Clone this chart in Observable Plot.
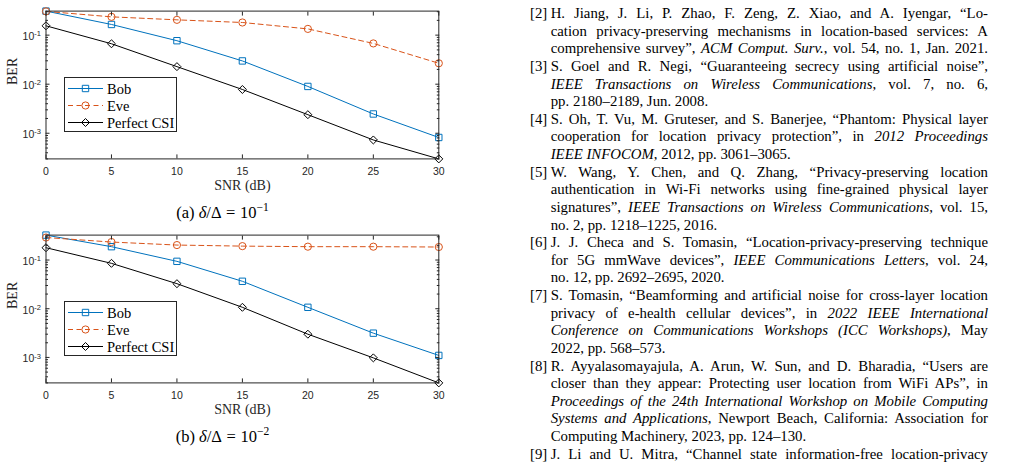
<!DOCTYPE html>
<html>
<head>
<meta charset="utf-8">
<script src="https://cdn.jsdelivr.net/npm/d3@7"></script>
<script src="https://cdn.jsdelivr.net/npm/@observablehq/plot@0.6"></script>
<style>
  html, body { margin: 0; padding: 0; background: #fff; }
  body { width: 1009px; height: 466px; overflow: hidden; position: relative; font-family: "Liberation Serif", "Times New Roman", serif; color: #000; }
  .fig { position: absolute; left: 0; width: 470px; height: 240px; }
  .fig > svg.plot { position: absolute; left: 0; top: 0; }
  .legend { position: absolute; left: 64px; }
  .cap { position: absolute; left: 0; width: 445px; text-align: center; font-size: 16.5px; line-height: 20px; white-space: nowrap; font-family: "Liberation Serif", serif; }
  .cap sup { font-size: 0.7em; vertical-align: 0; position: relative; top: -0.55em; }
  .cap .eq { margin: 0 0.28em; }
  .refs { position: absolute; left: 530px; top: 5px; width: 458px; font-family: "Liberation Serif", "Times New Roman", serif; font-size: 14.8px; line-height: 17.62px; }
  .ref { position: relative; padding-left: 20.7px; }
  .ref .lab { position: absolute; left: 0; top: 0; }
  .ln { display: block; white-space: nowrap; }
  .ln span.t { display: inline-block; white-space: nowrap; }
</style>
</head>
<body>
<div id="figA" class="fig" style="top:0px"></div>
<div id="figB" class="fig" style="top:224px"></div>
<div id="refs" class="refs"></div>
<script>
// ---------------- data ----------------
const snr = [0, 5, 10, 15, 20, 25, 30];
const xTicks = [0, 5, 10, 15, 20, 25, 30];
const yMajor = [1e-3, 1e-2, 1e-1];
const seriesNames = ["Bob", "Eve", "Perfect CSI"];
const seriesColors = ["#0072BD", "#D95319", "#000000"];
const seriesSymbols = ["square", "circle", "diamond2"];

// (a) delta/Delta = 10^-1
const bobA = [0.309, 0.165, 0.077, 0.0298, 0.0090, 0.00247, 0.00082];
const eveA = [0.305, 0.236, 0.205, 0.181, 0.134, 0.0678, 0.0267];
const csiA = [0.155, 0.0667, 0.0228, 0.0078, 0.00239, 0.00073, 0.00030];

// (b) delta/Delta = 10^-2
const bobB = [0.325, 0.188, 0.094, 0.0366, 0.0107, 0.00315, 0.0011];
const eveB = [0.290, 0.234, 0.203, 0.193, 0.188, 0.188, 0.185];
const csiB = [0.179, 0.0855, 0.0327, 0.0107, 0.0030, 0.00098, 0.00030];

const captionLabels = ["(a)", "(b)"];
const captionExps = ["−1", "−2"];
const xLabel = "SNR (dB)";
const yLabel = "BER";

const refLabels = ["[2]", "[3]", "[4]", "[5]", "[6]", "[7]", "[8]", "[9]"];
const refLines = [
  ["H. Jiang, J. Li, P. Zhao, F. Zeng, Z. Xiao, and A. Iyengar, “Lo-",
   "cation privacy-preserving mechanisms in location-based services: A",
   "comprehensive survey”, <i>ACM Comput. Surv.</i>, vol. 54, no. 1, Jan. 2021."],
  ["S. Goel and R. Negi, “Guaranteeing secrecy using artificial noise”,",
   "<i>IEEE Transactions on Wireless Communications</i>, vol. 7, no. 6,",
   "pp. 2180–2189, Jun. 2008."],
  ["S. Oh, T. Vu, M. Gruteser, and S. Banerjee, “Phantom: Physical layer",
   "cooperation for location privacy protection”, in <i>2012 Proceedings</i>",
   "<i>IEEE INFOCOM</i>, 2012, pp. 3061–3065."],
  ["W. Wang, Y. Chen, and Q. Zhang, “Privacy-preserving location",
   "authentication in Wi-Fi networks using fine-grained physical layer",
   "signatures”, <i>IEEE Transactions on Wireless Communications</i>, vol. 15,",
   "no. 2, pp. 1218–1225, 2016."],
  ["J. J. Checa and S. Tomasin, “Location-privacy-preserving technique",
   "for 5G mmWave devices”, <i>IEEE Communications Letters</i>, vol. 24,",
   "no. 12, pp. 2692–2695, 2020."],
  ["S. Tomasin, “Beamforming and artificial noise for cross-layer location",
   "privacy of e-health cellular devices”, in <i>2022 IEEE International</i>",
   "<i>Conference on Communications Workshops (ICC Workshops)</i>, May",
   "2022, pp. 568–573."],
  ["R. Ayyalasomayajula, A. Arun, W. Sun, and D. Bharadia, “Users are",
   "closer than they appear: Protecting user location from WiFi APs”, in",
   "<i>Proceedings of the 24th International Workshop on Mobile Computing</i>",
   "<i>Systems and Applications</i>, Newport Beach, California: Association for",
   "Computing Machinery, 2023, pp. 124–130."],
  ["J. Li and U. Mitra, “Channel state information-free location-privacy"]
];
// lines that are not stretched to full width (short last lines)
const shortLast = [false, true, true, true, true, true, true, false];

// ---------------- chart ----------------
const symR = {square: 3.6, circle: 3.6, diamond2: 3.6};

function makeChart(bob, eve, csi) {
  const data = [bob, eve, csi].flatMap((vals, k) =>
    snr.map((x, i) => ({snr: x, ber: vals[i], series: seriesNames[k]})));
  const [lo, hi] = d3.extent(data, d => d.ber);
  const minor = d3.range(-4, 0)
    .flatMap(e => d3.range(2, 10).map(m => m * Math.pow(10, e)))
    .filter(v => v >= lo && v <= hi);
  const sub = name => data.filter(d => d.series === name);
  const marks = [];
  seriesNames.forEach((name, k) => {
    const opts = {x: "snr", y: "ber", stroke: seriesColors[k], strokeWidth: 1};
    if (name === "Eve") opts.strokeDasharray = "5,3.5";
    marks.push(Plot.line(sub(name), opts));
  });
  seriesNames.forEach((name, k) => {
    marks.push(Plot.dot(sub(name), {
      x: "snr", y: "ber", symbol: seriesSymbols[k], r: symR[seriesSymbols[k]],
      stroke: seriesColors[k], fill: "none", strokeWidth: 1
    }));
  });
  const blank = () => "";
  marks.push(
    Plot.frame({stroke: "#262626", strokeWidth: 1}),
    Plot.axisX(xTicks, {anchor: "bottom", tickSize: 0, tickPadding: 8.5, label: null}),
    Plot.axisX(xTicks, {anchor: "bottom", tickSize: -4, tickFormat: blank, label: null}),
    Plot.axisX(xTicks, {anchor: "top", tickSize: -4, tickFormat: blank, label: null}),
    Plot.axisY(yMajor, {anchor: "left", tickSize: 0, tickPadding: 5, dy: 1.5,
      tickFormat: d => String(Math.round(Math.log10(d))), label: null}),
    Plot.axisY(yMajor, {anchor: "left", tickSize: -4, tickFormat: blank, label: null}),
    Plot.axisY(minor, {anchor: "left", tickSize: -2.5, tickFormat: blank, label: null}),
    Plot.axisY(yMajor, {anchor: "right", tickSize: -4, tickFormat: blank, label: null}),
    Plot.axisY(minor, {anchor: "right", tickSize: -2.5, tickFormat: blank, label: null}),
    Plot.text([xLabel], {text: d => d, frameAnchor: "bottom", dy: 31,
      fontFamily: "Liberation Serif", fontSize: 14, fill: "#262626"}),
    Plot.text([yLabel], {text: d => d, frameAnchor: "left", dx: -33.5, rotate: -90,
      fontFamily: "Liberation Serif", fontSize: 14, fill: "#262626"})
  );
  const svg = Plot.plot({
    width: 460, height: 200,
    marginLeft: 45.5, marginRight: 21.7, marginTop: 10.6, marginBottom: 41.6,
    style: {background: "transparent", overflow: "visible", fontFamily: "Liberation Sans, Arial, sans-serif", fontSize: "10.5px", color: "#262626"},
    x: {domain: [0, 30]},
    y: {type: "log", domain: [lo, hi]},
    marks
  });
  svg.classList.add("plot");
  // superscript exponents for log tick labels (10^e)
  const ns = "http://www.w3.org/2000/svg";
  svg.querySelectorAll('g[aria-label="y-axis tick label"] text').forEach(t => {
    const e = t.textContent;
    if (!e) return;
    t.textContent = "";
    const a = document.createElementNS(ns, "tspan");
    a.textContent = "10";
    const b = document.createElementNS(ns, "tspan");
    b.setAttribute("dy", "-0.5em");
    b.setAttribute("font-size", "0.72em");
    b.textContent = e;
    t.appendChild(a); t.appendChild(b);
  });
  return svg;
}

function makeLegend(top) {
  const w = 112, h = 54;
  const svg = d3.create("svg").attr("class", "legend")
    .attr("width", w + 1).attr("height", h + 1)
    .style("top", top + "px");
  svg.append("rect").attr("x", 0.5).attr("y", 0.5).attr("width", w).attr("height", h)
    .attr("fill", "#fff").attr("stroke", "#262626").attr("stroke-width", 1);
  seriesNames.forEach((name, i) => {
    const y = 11.5 + 17 * i;
    const g = svg.append("g");
    g.append("line").attr("x1", 4).attr("x2", 39).attr("y1", y).attr("y2", y)
      .attr("stroke", seriesColors[i]).attr("stroke-width", 1)
      .attr("stroke-dasharray", name === "Eve" ? "5,3.5" : null);
    const symType = {square: d3.symbolSquare, circle: d3.symbolCircle, diamond2: d3.symbolDiamond2}[seriesSymbols[i]];
    const r = symR[seriesSymbols[i]];
    g.append("path").attr("d", d3.symbol(symType, Math.PI * r * r)())
      .attr("transform", `translate(21.5,${y})`)
      .attr("fill", "none").attr("stroke", seriesColors[i]).attr("stroke-width", 1);
    g.append("text").attr("x", 43).attr("y", y).attr("dy", "0.35em")
      .attr("font-family", "Liberation Serif, serif").attr("font-size", 14.5)
      .attr("fill", "#000").text(name);
  });
  return svg.node();
}

function makeCaption(k) {
  const d = document.createElement("div");
  d.className = "cap";
  d.style.top = "202.5px";
  d.innerHTML = `${captionLabels[k]} <i>δ</i>/Δ<span class="eq">=</span>10<sup>${captionExps[k]}</sup>`;
  return d;
}

const figA = document.getElementById("figA");
figA.appendChild(makeChart(bobA, eveA, csiA));
figA.appendChild(makeLegend(77));
figA.appendChild(makeCaption(0));

const figB = document.getElementById("figB");
figB.appendChild(makeChart(bobB, eveB, csiB));
figB.appendChild(makeLegend(77));
figB.appendChild(makeCaption(1));

// ---------------- references ----------------
const refsDiv = document.getElementById("refs");
const bodyWidth = 458 - 20.7;
const lineEls = [];
refLines.forEach((lines, r) => {
  const ref = document.createElement("div");
  ref.className = "ref";
  const lab = document.createElement("span");
  lab.className = "lab";
  lab.textContent = refLabels[r];
  ref.appendChild(lab);
  lines.forEach((html, i) => {
    const ln = document.createElement("div");
    ln.className = "ln";
    const t = document.createElement("span");
    t.className = "t";
    t.innerHTML = html;
    ln.appendChild(t);
    ref.appendChild(ln);
    const isLast = i === lines.length - 1;
    lineEls.push({t, justify: !(isLast && shortLast[r])});
  });
  refsDiv.appendChild(ref);
});
// justify each line to the column width by adjusting word spacing
lineEls.forEach(({t, justify}) => {
  const natural = t.getBoundingClientRect().width;
  const spaces = (t.textContent.match(/ /g) || []).length;
  if (!spaces) return;
  if (justify || natural > bodyWidth) {
    t.style.wordSpacing = ((bodyWidth - natural) / spaces) + "px";
  }
});
</script>
</body>
</html>
